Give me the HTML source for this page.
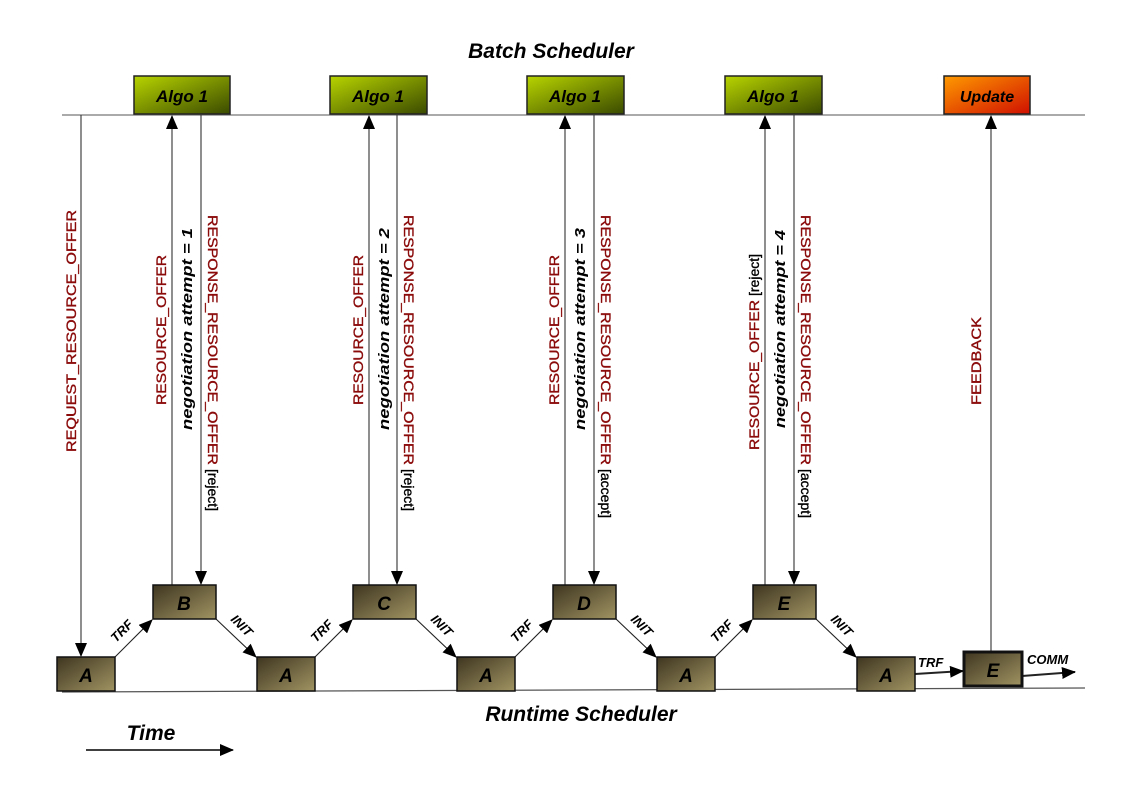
<!DOCTYPE html>
<html><head><meta charset="utf-8"><style>html,body{margin:0;padding:0;background:#fff}svg{display:block}</style></head><body>
<svg width="1123" height="794" viewBox="0 0 1123 794" xmlns="http://www.w3.org/2000/svg" font-family="Liberation Sans, sans-serif">
<defs>
<linearGradient id="g" x1="0" y1="0" x2="1" y2="1"><stop offset="0" stop-color="#b8d400"/><stop offset="1" stop-color="#3a4a00"/></linearGradient>
<linearGradient id="o" x1="0" y1="0" x2="1" y2="1"><stop offset="0" stop-color="#ff9a00"/><stop offset="1" stop-color="#d01000"/></linearGradient>
<linearGradient id="b" x1="0" y1="0" x2="1" y2="1"><stop offset="0" stop-color="#3e3520"/><stop offset="1" stop-color="#a09462"/></linearGradient>
<marker id="ar" markerWidth="14" markerHeight="12" refX="13" refY="6" orient="auto" markerUnits="userSpaceOnUse"><path d="M0,0 L14,6 L0,12 z" fill="#000"/></marker>
</defs>
<text x="551" y="58" text-anchor="middle" font-size="21" font-weight="bold" font-style="italic">Batch Scheduler</text>
<text x="581" y="721" text-anchor="middle" font-size="21" font-weight="bold" font-style="italic">Runtime Scheduler</text>
<text x="151" y="740" text-anchor="middle" font-size="21" font-weight="bold" font-style="italic">Time</text>
<line x1="86" y1="750" x2="233" y2="750" stroke="#000" stroke-width="1.5" marker-end="url(#ar)"/>
<line x1="62" y1="115" x2="1085" y2="115" stroke="#777" stroke-width="1.2"/>
<line x1="62" y1="692" x2="1085" y2="688" stroke="#555" stroke-width="1.2"/>
<g stroke="#222" stroke-width="1.5">
<rect x="134" y="76" width="96" height="38" fill="url(#g)"/>
<rect x="330" y="76" width="97" height="38" fill="url(#g)"/>
<rect x="527" y="76" width="97" height="38" fill="url(#g)"/>
<rect x="725" y="76" width="97" height="38" fill="url(#g)"/>
<rect x="944" y="76" width="86" height="38" fill="url(#o)"/>
</g>
<g font-size="17" font-weight="bold" font-style="italic" text-anchor="middle">
<text x="182" y="102">Algo 1</text><text x="378" y="102">Algo 1</text><text x="575" y="102">Algo 1</text><text x="773" y="102">Algo 1</text>
<text x="987" y="102" font-size="16">Update</text>
</g>
<g stroke="#333" stroke-width="1.1" fill="none">
<line x1="81" y1="115" x2="81" y2="656" marker-end="url(#ar)"/>
<line x1="172" y1="585" x2="172" y2="116" marker-end="url(#ar)"/>
<line x1="201" y1="115" x2="201" y2="584" marker-end="url(#ar)"/>
<line x1="369" y1="585" x2="369" y2="116" marker-end="url(#ar)"/>
<line x1="397" y1="115" x2="397" y2="584" marker-end="url(#ar)"/>
<line x1="565" y1="585" x2="565" y2="116" marker-end="url(#ar)"/>
<line x1="594" y1="115" x2="594" y2="584" marker-end="url(#ar)"/>
<line x1="765" y1="585" x2="765" y2="116" marker-end="url(#ar)"/>
<line x1="794" y1="115" x2="794" y2="584" marker-end="url(#ar)"/>
<line x1="991" y1="652" x2="991" y2="116" marker-end="url(#ar)"/>
</g>
<g stroke="#222" stroke-width="1.1">
<line x1="115" y1="657" x2="152" y2="620" marker-end="url(#ar)"/>
<line x1="216" y1="619" x2="256" y2="657" marker-end="url(#ar)"/>
<line x1="315" y1="657" x2="352" y2="620" marker-end="url(#ar)"/>
<line x1="416" y1="619" x2="456" y2="657" marker-end="url(#ar)"/>
<line x1="515" y1="657" x2="552" y2="620" marker-end="url(#ar)"/>
<line x1="616" y1="619" x2="656" y2="657" marker-end="url(#ar)"/>
<line x1="715" y1="657" x2="752" y2="620" marker-end="url(#ar)"/>
<line x1="816" y1="619" x2="856" y2="657" marker-end="url(#ar)"/>
<line x1="915" y1="674" x2="963" y2="671" stroke-width="2" marker-end="url(#ar)"/>
<line x1="1022" y1="676" x2="1075" y2="672" stroke-width="2" marker-end="url(#ar)"/>
</g>
<g font-size="13" font-weight="bold" font-style="italic">
<text transform="translate(116,643) rotate(-45)">TRF</text>
<text transform="translate(230,620) rotate(45)">INIT</text>
<text transform="translate(316,643) rotate(-45)">TRF</text>
<text transform="translate(430,620) rotate(45)">INIT</text>
<text transform="translate(516,643) rotate(-45)">TRF</text>
<text transform="translate(630,620) rotate(45)">INIT</text>
<text transform="translate(716,643) rotate(-45)">TRF</text>
<text transform="translate(830,620) rotate(45)">INIT</text>
<text x="918" y="667">TRF</text>
<text x="1027" y="664">COMM</text>
</g>
<g stroke="#111" stroke-width="1.5" fill="url(#b)">
<rect x="57" y="657" width="58" height="34"/>
<rect x="153" y="585" width="63" height="34"/>
<rect x="257" y="657" width="58" height="34"/>
<rect x="353" y="585" width="63" height="34"/>
<rect x="457" y="657" width="58" height="34"/>
<rect x="553" y="585" width="63" height="34"/>
<rect x="657" y="657" width="58" height="34"/>
<rect x="753" y="585" width="63" height="34"/>
<rect x="857" y="657" width="58" height="34"/>
<rect x="964" y="652" width="58" height="34" stroke-width="3"/>
</g>
<g font-size="19" font-weight="bold" font-style="italic" text-anchor="middle">
<text x="86" y="682">A</text><text x="184" y="610">B</text><text x="286" y="682">A</text><text x="384" y="610">C</text>
<text x="486" y="682">A</text><text x="584" y="610">D</text><text x="686" y="682">A</text><text x="784" y="610">E</text>
<text x="886" y="682">A</text><text x="993" y="677">E</text>
</g>
<g font-size="14" fill="#8b0a0a" stroke="#8b0a0a" stroke-width="0.35">
<text transform="translate(76,452) rotate(-90)" textLength="242" lengthAdjust="spacingAndGlyphs">REQUEST_RESOURCE_OFFER</text>
<text transform="translate(166,405) rotate(-90)" textLength="150" lengthAdjust="spacingAndGlyphs">RESOURCE_OFFER</text>
<text transform="translate(363,405) rotate(-90)" textLength="150" lengthAdjust="spacingAndGlyphs">RESOURCE_OFFER</text>
<text transform="translate(559,405) rotate(-90)" textLength="150" lengthAdjust="spacingAndGlyphs">RESOURCE_OFFER</text>
<text transform="translate(759,450) rotate(-90)"><tspan textLength="150" lengthAdjust="spacingAndGlyphs">RESOURCE_OFFER</tspan><tspan fill="#000" stroke="#000" font-size="14" dx="4">[reject]</tspan></text>
<text transform="translate(208,215) rotate(90)"><tspan textLength="250" lengthAdjust="spacingAndGlyphs">RESPONSE_RESOURCE_OFFER</tspan><tspan fill="#000" stroke="#000" font-size="14" dx="4">[reject]</tspan></text>
<text transform="translate(404,215) rotate(90)"><tspan textLength="250" lengthAdjust="spacingAndGlyphs">RESPONSE_RESOURCE_OFFER</tspan><tspan fill="#000" stroke="#000" font-size="14" dx="4">[reject]</tspan></text>
<text transform="translate(601,215) rotate(90)"><tspan textLength="250" lengthAdjust="spacingAndGlyphs">RESPONSE_RESOURCE_OFFER</tspan><tspan fill="#000" stroke="#000" font-size="14" dx="4">[accept]</tspan></text>
<text transform="translate(801,215) rotate(90)"><tspan textLength="250" lengthAdjust="spacingAndGlyphs">RESPONSE_RESOURCE_OFFER</tspan><tspan fill="#000" stroke="#000" font-size="14" dx="4">[accept]</tspan></text>
<text transform="translate(981,405) rotate(-90)" textLength="88" lengthAdjust="spacingAndGlyphs">FEEDBACK</text>
</g>
<g font-size="15" font-weight="bold" font-style="italic" fill="#000">
<text transform="translate(192,430) rotate(-90)" textLength="202" lengthAdjust="spacingAndGlyphs">negotiation attempt = 1</text>
<text transform="translate(389,430) rotate(-90)" textLength="202" lengthAdjust="spacingAndGlyphs">negotiation attempt = 2</text>
<text transform="translate(585,430) rotate(-90)" textLength="202" lengthAdjust="spacingAndGlyphs">negotiation attempt = 3</text>
<text transform="translate(785,428) rotate(-90)" textLength="198" lengthAdjust="spacingAndGlyphs">negotiation attempt = 4</text>
</g>
</svg>
</body></html>
